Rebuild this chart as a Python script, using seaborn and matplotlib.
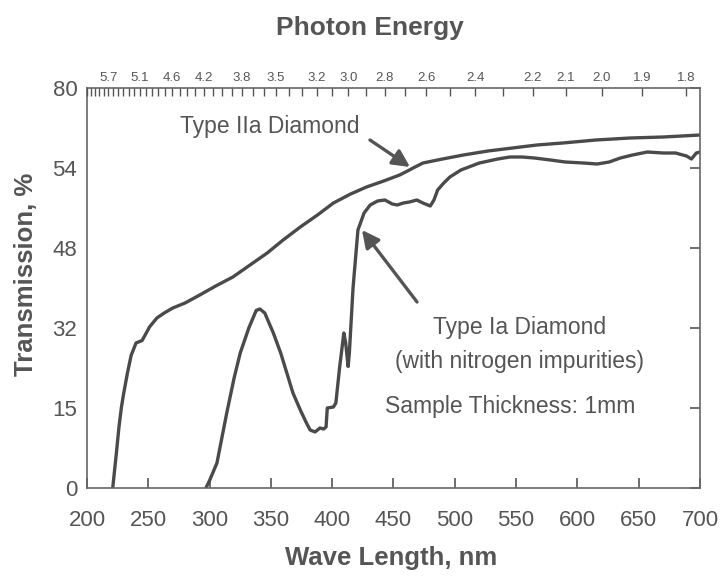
import numpy as np
import pandas as pd
import matplotlib
matplotlib.use("Agg")
import matplotlib.pyplot as plt
import seaborn as sns

# Type IIa diamond transmission (wavelength in nm, transmission in %)
iia_wavelength = [221, 224, 226, 228, 230, 233, 236, 240, 245, 251, 257, 263, 270, 280,
                  292, 305, 319, 333, 347, 360, 374, 388, 401, 415, 428, 442, 455, 463,
                  466, 474, 490, 507, 527, 547, 567, 588, 615, 643, 670, 700]
iia_transmission = [0, 7, 12, 16, 19, 23, 26.5, 29, 29.5, 32.2, 34, 35, 36, 37,
                    38.6, 40.4, 42.2, 44.6, 47, 49.6, 52.2, 54.6, 57, 58.8, 60.2, 61.4, 62.6, 63.6,
                    64, 65, 65.8, 66.6, 67.4, 68, 68.6, 69, 69.6, 70, 70.2, 70.6]

# Type Ia diamond (nitrogen impurities) transmission
ia_wavelength = [297, 300, 306, 314, 320, 325, 332, 338, 341, 345, 352, 358, 363, 368,
                 374, 379, 382, 386, 390, 393, 395, 396, 401, 403, 406, 409.5, 411, 413,
                 414, 417, 421, 426, 431, 437, 443, 449, 453, 458, 463, 469, 474, 480,
                 483, 486, 491, 496, 505, 520, 535, 545, 555, 565, 578, 590, 605, 616,
                 626, 635, 645, 657, 670, 680, 689, 693, 697, 700]
ia_transmission = [0, 1.5, 5, 15, 22, 27, 32, 35.5, 35.8, 35, 31, 27, 23, 19,
                   15.6, 13, 11.6, 11.2, 12, 11.8, 12.2, 16, 16.2, 17, 24, 31, 29, 24.3,
                   27, 40, 51.6, 55, 56.6, 57.4, 57.6, 56.8, 56.6, 57, 57.2, 57.6, 57, 56.4,
                   57.6, 59.6, 61, 62.2, 63.6, 65, 65.8, 66.2, 66.2, 66, 65.6, 65.2, 65, 64.8,
                   65.2, 66, 66.6, 67.2, 67, 67, 66.4, 65.8, 67, 67.2]

# Axis ticks
x_ticks = [200, 250, 300, 350, 400, 450, 500, 550, 600, 650, 700]
y_ticks = [0, 16, 32, 48, 64, 80]
y_tick_labels = ["0", "15", "32", "48", "54", "80"]
energy_labels = [5.7, 5.1, 4.6, 4.2, 3.8, 3.5, 3.2, 3.0, 2.8, 2.6, 2.4, 2.2, 2.1, 2.0, 1.9, 1.8]
energy_minor = [round(6.2 - 0.1 * i, 1) for i in range(45)]
HC = 1239.8  # eV*nm

sns.set_style("white")
plt.rcParams["font.family"] = ["Liberation Sans", "DejaVu Sans"]

INK = "#555555"
LINE = "#4a4a4a"

fig = plt.figure(figsize=(7.23, 5.79), dpi=100)
ax = fig.add_axes([0.1203, 0.1572, 0.8479, 0.6908])

iia = pd.DataFrame({"wavelength": iia_wavelength, "transmission": iia_transmission})
ia = pd.DataFrame({"wavelength": ia_wavelength, "transmission": ia_transmission})
sns.lineplot(data=iia, x="wavelength", y="transmission", ax=ax, color=LINE,
             linewidth=2.4, sort=False, estimator=None)
sns.lineplot(data=ia, x="wavelength", y="transmission", ax=ax, color=LINE,
             linewidth=2.4, sort=False, estimator=None)

ax.set_xlim(200, 700)
ax.set_ylim(0, 80)
ax.set_xticks(x_ticks)
ax.set_xticklabels([str(v) for v in x_ticks])
ax.set_yticks(y_ticks)
ax.set_yticklabels(y_tick_labels)
ax.tick_params(axis="x", direction="in", length=7, width=1.2, color=INK,
               labelsize=16, labelcolor=INK, pad=16, top=False)
ax.tick_params(axis="y", direction="in", length=7, width=1.2, color=INK,
               labelsize=16, labelcolor=INK, pad=7, right=True)
for sp in ax.spines.values():
    sp.set_visible(True)
    sp.set_color("#666666")
    sp.set_linewidth(1.2)

ax.set_xlabel("Wave Length, nm", fontsize=18.5, fontweight="bold", color=INK)
ax.set_ylabel("Transmission, %", fontsize=18.5, fontweight="bold", color=INK)
ax.xaxis.set_label_coords(0.496, -0.145)
ax.yaxis.set_label_coords(-0.080, 0.535)

# Photon energy scale along the top
ax2 = ax.twiny()
ax2.set_xlim(ax.get_xlim())
ax2.set_xticks([HC / e for e in energy_labels])
ax2.set_xticklabels([f"{e:.1f}" for e in energy_labels])
ax2.set_xticks([HC / e for e in energy_minor if HC / e <= 700], minor=True)
ax2.tick_params(axis="x", which="both", direction="in", length=6, width=1.0,
                color=INK, labelsize=9.5, labelcolor=INK, pad=3)
for sp in ax2.spines.values():
    sp.set_visible(False)
fig.text(0.512, 0.952, "Photon Energy", ha="center", va="center",
         fontsize=19, fontweight="bold", color=INK)

# Annotations
ax.text(349, 72.4, "Type IIa Diamond", ha="center", va="center", fontsize=16.5, color=INK)
ax.annotate("", xy=(463.5, 64.2), xytext=(430.8, 69.6),
            arrowprops=dict(arrowstyle="-|>", color=INK, lw=2.4, mutation_scale=26,
                            shrinkA=0, shrinkB=0))
ax.text(553, 32, "Type Ia Diamond", ha="center", va="center", fontsize=16.5, color=INK)
ax.text(553, 25.2, "(with nitrogen impurities)", ha="center", va="center", fontsize=16.5, color=INK)
ax.annotate("", xy=(424.3, 51.6), xytext=(469.2, 37.2),
            arrowprops=dict(arrowstyle="-|>", color=INK, lw=2.4, mutation_scale=26,
                            shrinkA=0, shrinkB=0))
ax.text(545, 16.2, "Sample Thickness: 1mm", ha="center", va="center", fontsize=16.5, color=INK)

fig.savefig("out.png", dpi=100)
